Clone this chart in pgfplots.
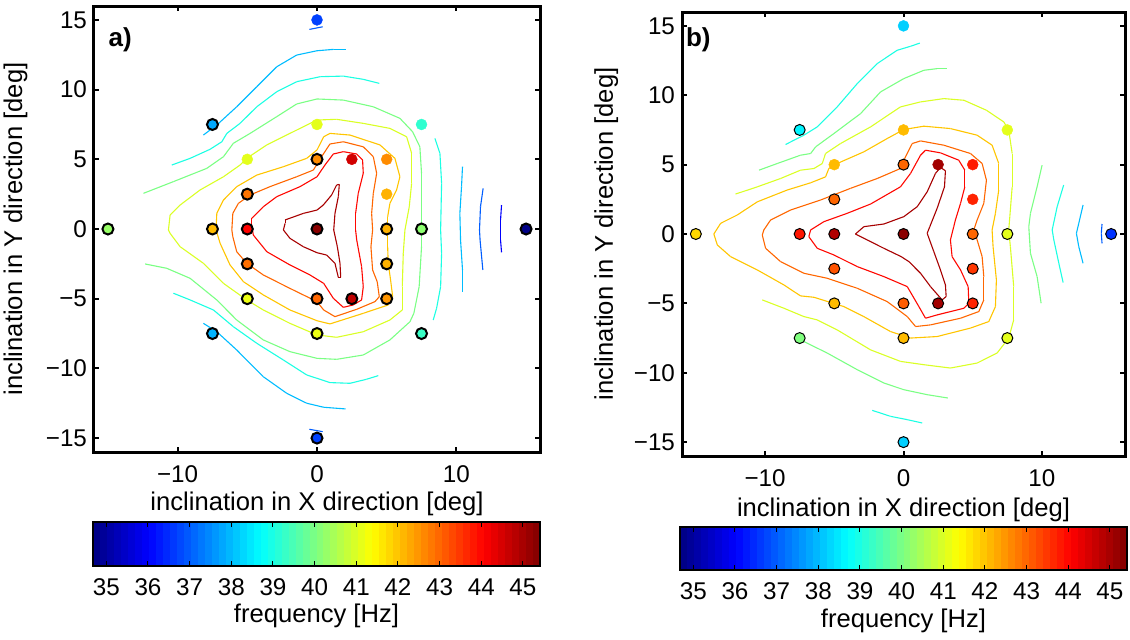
\documentclass[border=0pt]{standalone}
\usepackage{fontspec}
\setmainfont{Liberation Sans}
\usepackage{pgfplots}
\usepackage{pgfplotstable}
\pgfplotsset{compat=1.18}
\pgfplotsset{
  /pgf/number format/assume math mode=true,
  tick label style={font=\fontsize{12.1pt}{14pt}\selectfont},
  label style={font=\fontsize{12.8pt}{15pt}\selectfont},
  cl/.style={mesh, point meta=#1, line width=0.55pt, forget plot},
  mainax/.style={
    scale only axis, anchor=south west,
    xmin=-16, xmax=16, ymin=-16, ymax=16,
    xtick={-10,0,10}, xticklabels={−10,0,10},
    ytick={-15,-10,-5,0,5,10,15}, yticklabels={−15,−10,−5,0,5,10,15},
    tick align=inside, major tick length=2.5pt,
    axis line style={line width=1.5pt},
    every tick/.style={black, line width=1pt},
    xlabel={inclination in X direction [deg]},
    ylabel={inclination in Y direction [deg]},
    xticklabel style={anchor=base, yshift=-15pt},
    colormap/jet, point meta min=34.68, point meta max=45.41,
  },
  cbar/.style={
    scale only axis, anchor=north west,
    width=223.5pt,
    xmin=34.68, xmax=45.41, ymin=0, ymax=1,
    ytick=\empty, xtick={35,36,...,45},
    tick align=inside, major tick length=2.5pt, axis on top,
    colormap/jet, point meta min=34.68, point meta max=45.41,
    axis line style={line width=0.6pt},
    every tick/.style={black, line width=0.5pt},
    xticklabel style={anchor=base, yshift=-14.5pt},
    xlabel={frequency [Hz]},
  },
  edged/.style={scatter, only marks, mark=*, mark size=2.75pt, scatter src=explicit,
    scatter/use mapped color={draw=black, fill=mapped color}, mark options={line width=#1}},
  plain/.style={scatter, only marks, mark=*, mark size=2.75pt, scatter src=explicit,
    scatter/use mapped color={draw=mapped color, fill=mapped color}, mark options={line width=0.2pt}},
}
% 64 colour bands of the colour bar (band edges, Hz)
\pgfplotstableread{
x y
34.6800 0.5
34.8477 0.5
35.0153 0.5
35.1830 0.5
35.3506 0.5
35.5183 0.5
35.6859 0.5
35.8536 0.5
36.0213 0.5
36.1889 0.5
36.3566 0.5
36.5242 0.5
36.6919 0.5
36.8595 0.5
37.0272 0.5
37.1948 0.5
37.3625 0.5
37.5302 0.5
37.6978 0.5
37.8655 0.5
38.0331 0.5
38.2008 0.5
38.3684 0.5
38.5361 0.5
38.7038 0.5
38.8714 0.5
39.0391 0.5
39.2067 0.5
39.3744 0.5
39.5420 0.5
39.7097 0.5
39.8773 0.5
40.0450 0.5
40.2127 0.5
40.3803 0.5
40.5480 0.5
40.7156 0.5
40.8833 0.5
41.0509 0.5
41.2186 0.5
41.3863 0.5
41.5539 0.5
41.7216 0.5
41.8892 0.5
42.0569 0.5
42.2245 0.5
42.3922 0.5
42.5598 0.5
42.7275 0.5
42.8952 0.5
43.0628 0.5
43.2305 0.5
43.3981 0.5
43.5658 0.5
43.7334 0.5
43.9011 0.5
44.0688 0.5
44.2364 0.5
44.4041 0.5
44.5717 0.5
44.7394 0.5
44.9070 0.5
45.0747 0.5
45.2423 0.5
45.4100 0.5
}\cbtab
\begin{document}
\begin{tikzpicture}
\useasboundingbox (0,0) rectangle (565pt,319.5pt);
% ---------------- panel a ----------------
\begin{axis}[mainax,
  at={(47pt,93.5pt)}, width=223pt, height=223pt,
  xlabel style={at={(axis description cs:0.5,-0.132)}, anchor=base},
  ylabel style={at={(axis description cs:-0.1614,0.5)}, anchor=base},
]
\addplot[cl=45] coordinates {(-2.29,0.65) (-0.98,1.12) (0,1.36) (0.45,1.72) (1.05,2.44) (1.41,3.16) (1.6,3.2) (1.53,2.32) (1.29,1.12) (1.2,-0.07) (1.46,-1.27) (1.65,-2.46) (1.7,-3.47) (1.53,-3.47) (1.29,-2.46) (0.69,-1.87) (0,-1.70) (-0.98,-1.27) (-1.94,-0.67) (-2.41,-0.07) (-2.29,0.4) (-2.29,0.65)};
\addplot[cl=44] coordinates {(-4.68,0.77) (-3.85,1.6) (-2.89,2.32) (-1.22,3.04) (0,3.75) (0.57,4.59) (1.17,5.38) (1.89,5.55) (2.85,5.38) (3.27,4.95) (3.32,4.0) (2.96,2.56) (2.77,1.12) (2.77,-0.07) (2.85,-0.79) (3.2,-2.7) (3.32,-4.14) (3.2,-5.09) (2.6,-5.45) (1.89,-5.62) (1.17,-4.97) (0.48,-3.9) (-0.5,-3.3) (-1.94,-2.58) (-3.6,-1.63) (-4.57,-0.43) (-4.68,0.29) (-4.68,0.77)};
\addplot[cl=43] coordinates {(-6.11,-0.07) (-6.04,1.12) (-5.64,1.84) (-4.8,2.44) (-3.37,3.04) (-1.46,3.75) (-0.26,4.23) (0.33,5.19) (0.93,6.1) (1.89,6.26) (3.32,5.9) (4.04,5.19) (4.28,4.0) (4.04,2.56) (3.92,1.12) (3.99,-0.07) (3.87,-1.27) (3.99,-2.94) (4.32,-3.78) (4.47,-4.86) (4.16,-5.21) (2.85,-5.76) (1.29,-6.29) (0.48,-5.81) (0,-5.21) (-1.94,-4.26) (-3.85,-3.3) (-5.04,-2.46) (-5.76,-1.63) (-6.04,-0.55) (-6.11,-0.07)};
\addplot[cl=42] coordinates {(-7.24,-0.07) (-7.19,1.12) (-6.71,2.08) (-5.76,3.04) (-4.32,3.87) (-2.41,4.47) (-0.74,5.07) (0,5.67) (0.48,6.62) (0.93,6.86) (2.37,6.74) (4.52,6.03) (5.59,5.07) (5.95,3.75) (5.71,2.8) (5.23,1.84) (5.07,0.88) (5.07,-0.07) (5.07,-1.27) (5.11,-2.46) (5.28,-3.66) (5.43,-4.86) (5.11,-5.45) (3.32,-6.05) (0.93,-6.81) (0,-6.58) (-1.94,-5.81) (-3.85,-4.73) (-5.28,-3.78) (-6.24,-2.58) (-6.95,-1.03) (-7.24,-0.07)};
\addplot[cl=41] coordinates {(-10.66,-0.07) (-10.54,1.0) (-9.82,1.72) (-8.39,2.8) (-6.71,3.75) (-5.52,4.59) (-5.04,5.07) (-3.61,6.03) (-1.46,7.1) (0,7.82) (1.41,7.87) (3.32,7.58) (5.23,7.22) (6.43,6.62) (6.79,5.43) (6.79,3.28) (6.62,1.6) (6.31,-0.07) (6.19,-1.74) (6.12,-4.14) (6.12,-5.81) (5.23,-6.53) (3.32,-7.37) (1.41,-7.77) (0,-7.6) (-1.94,-6.77) (-3.85,-5.81) (-5.04,-5.09) (-6.71,-3.9) (-8.15,-2.46) (-9.82,-1.27) (-10.54,-0.31) (-10.66,-0.07)};
\addplot[cl=40] coordinates {(-12.45,2.56) (-10.3,3.4) (-7.91,4.35) (-6.71,5.19) (-6.0,6.15) (-4.8,6.86) (-2.89,8.06) (-1.46,8.97) (0,9.33) (1.89,9.25) (4.04,8.77) (5.95,7.94) (6.86,6.98) (7.38,5.9) (7.5,4.0) (7.5,-0.07) (7.5,-1.27) (7.33,-4.14) (6.95,-6.05) (6.67,-6.65) (5.23,-7.96) (3.32,-9.04) (1.41,-9.35) (0,-9.28) (-1.94,-8.8) (-3.85,-7.96) (-5.76,-6.53) (-7.19,-5.09) (-9.1,-3.54) (-10.78,-2.82) (-12.33,-2.51)};
\addplot[cl=39] coordinates {(-10.42,4.59) (-9.1,5.07) (-7.67,5.72) (-6.83,6.26) (-6.47,6.86) (-5.52,7.58) (-4.32,8.77) (-2.89,9.85) (-1.46,10.57) (0.24,10.93) (1.89,10.97) (3.32,10.74) (4.47,10.45)};
\addplot[cl=39] coordinates {(8.46,6.5) (8.82,5.43) (8.94,3.28) (8.87,-0.07) (8.94,-1.74) (8.87,-4.14) (8.58,-5.69) (8.34,-6.53)};
\addplot[cl=39] coordinates {(-10.3,-4.61) (-9.1,-5.09) (-7.43,-5.81) (-6.0,-7.01) (-4.32,-8.2) (-2.41,-9.4) (-0.74,-10.47) (0.93,-11.02) (2.37,-11.07) (3.56,-10.78) (4.4,-10.52)};
\addplot[cl=38] coordinates {(-8.15,6.74) (-7.19,7.46) (-5.76,8.77) (-4.32,10.21) (-2.89,11.64) (-1.46,12.48) (0,12.79) (1.2,12.89) (2.08,12.89)};
\addplot[cl=38] coordinates {(-8.15,-6.77) (-7.19,-7.37) (-5.76,-8.68) (-3.85,-10.6) (-2.17,-11.79) (-0.74,-12.5) (0.48,-12.79) (2.05,-12.91)};
\addplot[cl=38] coordinates {(10.44,4.47) (10.37,3.04) (10.25,1.12) (10.3,-0.79) (10.44,-2.94) (10.44,-4.5)};
\addplot[cl=37] coordinates {(11.92,2.92) (11.73,1.6) (11.66,-0.07) (11.7,-0.79) (11.9,-2.94)};
\addplot[cl=37] coordinates {(-0.55,14.32) (0.41,14.51)};
\addplot[cl=37] coordinates {(-0.55,-14.37) (0.41,-14.54)};
\addplot[cl=36] coordinates {(13.24,1.72) (13.17,0.65) (13.17,-0.79) (13.24,-1.67)};
\addplot[plain] table[meta=f] {
x y f
0 15 36.7
0 7.5 41.1
7.5 7.5 39.2
-5 5 41.1
2.5 5 44.55
5 5 42.6
5 2.5 42.2
};
\addplot[edged=1pt] table[meta=f] {
x y f
-7.5 7.5 37.8
0 5 42.6
-5 2.5 42.85
-15 0 40.3
-7.5 0 42.1
-5 0 44.05
0 0 45.3
5 0 42.2
7.5 0 40.2
15 0 34.75
-5 -2.5 42.9
5 -2.5 42.2
-5 -5 41.2
0 -5 43.0
2.5 -5 44.74
5 -5 42.5
-7.5 -7.5 37.9
0 -7.5 41.2
7.5 -7.5 39.3
0 -15 36.7
};
\node[anchor=west, inner sep=0pt, font=\bfseries\fontsize{13pt}{15pt}\selectfont] at (axis cs:-14.98,13.56) {a)};
\end{axis}
% colour bar a
\begin{axis}[cbar, at={(46.5pt,58.5pt)}, height=22pt,
  xlabel style={at={(axis description cs:0.5,-1.273)}, anchor=base}]
\addplot[mesh, shader=flat mean, point meta=x, line width=24pt, line cap=butt] table {\cbtab};
\end{axis}
% ---------------- panel b ----------------
\begin{axis}[mainax,
  at={(341pt,91.5pt)}, width=221.5pt, height=222pt,
  xlabel style={at={(axis description cs:0.5,-0.137)}, anchor=base},
  ylabel style={at={(axis description cs:-0.1558,0.5)}, anchor=base},
]
\addplot[cl=45] coordinates {(-3.47,0) (-2.86,0.53) (-1.42,0.72) (0.02,1.25) (0.99,1.97) (1.71,3.04) (2.31,4.37) (2.67,4.8) (3.03,4.56) (2.96,3.4) (2.43,1.85) (1.9,0.53) (1.71,0.05) (2.19,-1.27) (2.67,-2.59) (3.03,-3.67) (3.08,-4.51) (2.79,-4.75) (1.95,-3.79) (1.23,-2.83) (0.39,-1.99) (-0.17,-1.63) (-1.42,-1.03) (-2.62,-0.43) (-3.47,0)};
\addplot[cl=44] coordinates {(-6.84,-0.19) (-6.71,0.29) (-5.75,0.89) (-4.07,1.49) (-2.38,2.16) (-0.22,3.4) (0.51,4.37) (1.23,5.68) (1.59,6.04) (2.67,5.85) (3.99,5.32) (4.43,4.6) (4.43,3.4) (4.12,2.21) (3.75,1.01) (3.63,0.53) (3.39,-0.43) (3.51,-1.63) (4.12,-2.59) (4.67,-3.79) (4.72,-4.99) (4.36,-5.35) (2.43,-5.83) (1.59,-6.07) (1.11,-5.23) (0.27,-3.79) (-1.42,-3.07) (-3.34,-2.35) (-5.03,-1.51) (-6.23,-1.03) (-6.84,-0.19)};
\addplot[cl=43] coordinates {(-10.2,-0.07) (-10.09,0.29) (-9.6,1.01) (-8.16,1.73) (-5.99,2.45) (-3.83,3.29) (-1.9,4.0) (-0.22,4.72) (0.14,5.56) (0.63,6.52) (1.23,6.71) (2.91,6.4) (4.84,5.8) (5.68,5.08) (5.99,3.88) (5.8,2.21) (5.32,1.01) (5.08,0.29) (5.32,-0.43) (5.68,-1.63) (5.8,-3.07) (5.8,-4.75) (5.44,-5.59) (4.12,-6.07) (1.95,-6.55) (0.87,-6.67) (0.27,-5.95) (-1.18,-4.87) (-3.34,-3.91) (-5.51,-3.19) (-7.2,-2.83) (-8.88,-1.99) (-9.96,-1.03) (-10.2,-0.07)};
\addplot[cl=42] coordinates {(-13.7,0) (-13.21,0.77) (-12.01,1.37) (-10.56,2.32) (-8.4,3.17) (-6.71,3.69) (-5.63,4.12) (-5.39,4.73) (-4.79,5.08) (-2.87,5.92) (-1.18,6.88) (0.02,7.53) (1.47,7.77) (3.39,7.6) (5.32,7.12) (6.4,6.4) (6.88,5.08) (6.88,3.17) (6.64,1.49) (6.4,0.29) (6.47,-0.91) (6.71,-3.31) (6.64,-5.23) (6.16,-6.31) (4.84,-6.78) (2.43,-7.39) (0.51,-7.5) (-0.94,-7.03) (-2.87,-5.95) (-4.31,-5.23) (-6.47,-4.56) (-7.44,-4.46) (-8.64,-3.67) (-10.56,-2.59) (-12.49,-1.63) (-13.45,-0.79) (-13.7,0)};
\addplot[cl=41] coordinates {(-12.13,2.88) (-10.56,3.4) (-8.88,4.0) (-7.44,4.6) (-6.47,4.72) (-5.87,5.08) (-5.63,5.8) (-4.55,6.52) (-2.38,7.72) (-0.22,9.16) (1.23,9.52) (2.91,9.76) (4.36,9.64) (5.99,8.92) (7.24,8.08) (7.6,7.5) (7.85,5.8) (7.85,3.4) (7.68,1.25) (7.6,0.29) (7.72,-0.91) (7.96,-3.79) (7.96,-6.19) (7.6,-7.5) (6.76,-8.58) (5.32,-9.3) (3.39,-9.66) (1.47,-9.42) (-0.22,-9.18) (-2.38,-8.35) (-4.79,-6.91) (-6.23,-6.19) (-7.2,-5.95) (-8.64,-5.35) (-10.2,-4.75)};
\addplot[cl=40] coordinates {(-10.44,4.6) (-9.12,5.08) (-7.44,5.68) (-6.71,5.8) (-6.35,6.28) (-5.03,7.24) (-3.1,8.68) (-1.66,10.24) (0.02,11.2) (1.47,11.8) (2.43,11.92) (3.15,11.92)};
\addplot[cl=40] coordinates {(-7.2,-7.75) (-5.51,-8.58) (-3.34,-9.78) (-1.42,-10.74) (0.02,-11.22) (1.71,-11.58) (3.2,-11.82)};
\addplot[cl=40] coordinates {(10.01,4.96) (9.65,3.4) (9.17,1.49) (9.05,0.53) (9.17,-1.39) (9.65,-3.07) (9.94,-4.99)};
\addplot[cl=39] coordinates {(-8.52,6.45) (-7.2,7.12) (-6.23,7.72) (-4.79,9.16) (-3.34,10.84) (-1.9,12.28) (-0.46,13.24) (0.51,13.53) (1.18,13.76)};
\addplot[cl=39] coordinates {(-2.26,-12.71) (-0.94,-13.14) (0.27,-13.38) (1.35,-13.62)};
\addplot[cl=39] coordinates {(11.57,3.53) (11.1,1.97) (10.74,0.29) (10.86,-0.43) (11.22,-2.11) (11.53,-3.5)};
\addplot[cl=38] coordinates {(12.97,2.09) (12.66,0.77) (12.49,0.05) (12.66,-0.91) (12.97,-2.11)};
\addplot[cl=37] coordinates {(14.34,0.72) (14.29,0.05) (14.34,-0.67)};
\addplot[plain] table[meta=f] {
x y f
0 15 38.2
0 7.5 42.1
7.5 7.5 41.1
-5 5 42.1
2.5 5 45.05
5 5 43.8
5 2.5 43.7
};
\addplot[edged=0.5pt] table[meta=f] {
x y f
-7.5 7.5 38.6
0 5 43.0
-5 2.5 43.0
-15 0 41.8
-7.5 0 43.85
-5 0 44.9
0 0 45.3
5 0 43.0
7.5 0 41.1
15 0 36.55
-5 -2.5 43.2
5 -2.5 43.5
-5 -5 42.1
0 -5 43.1
2.5 -5 45.05
5 -5 43.7
-7.5 -7.5 40.05
0 -7.5 42.1
7.5 -7.5 41.1
0 -15 38.2
};
\node[anchor=west, inner sep=0pt, font=\bfseries\fontsize{13pt}{15pt}\selectfont] at (axis cs:-15.74,14.03) {b)};
\end{axis}
% colour bar b
\begin{axis}[cbar, at={(340pt,56pt)}, height=21.5pt,
  xlabel style={at={(axis description cs:0.5,-1.33)}, anchor=base}]
\addplot[mesh, shader=flat mean, point meta=x, line width=24pt, line cap=butt] table {\cbtab};
\end{axis}
\end{tikzpicture}
\end{document}
